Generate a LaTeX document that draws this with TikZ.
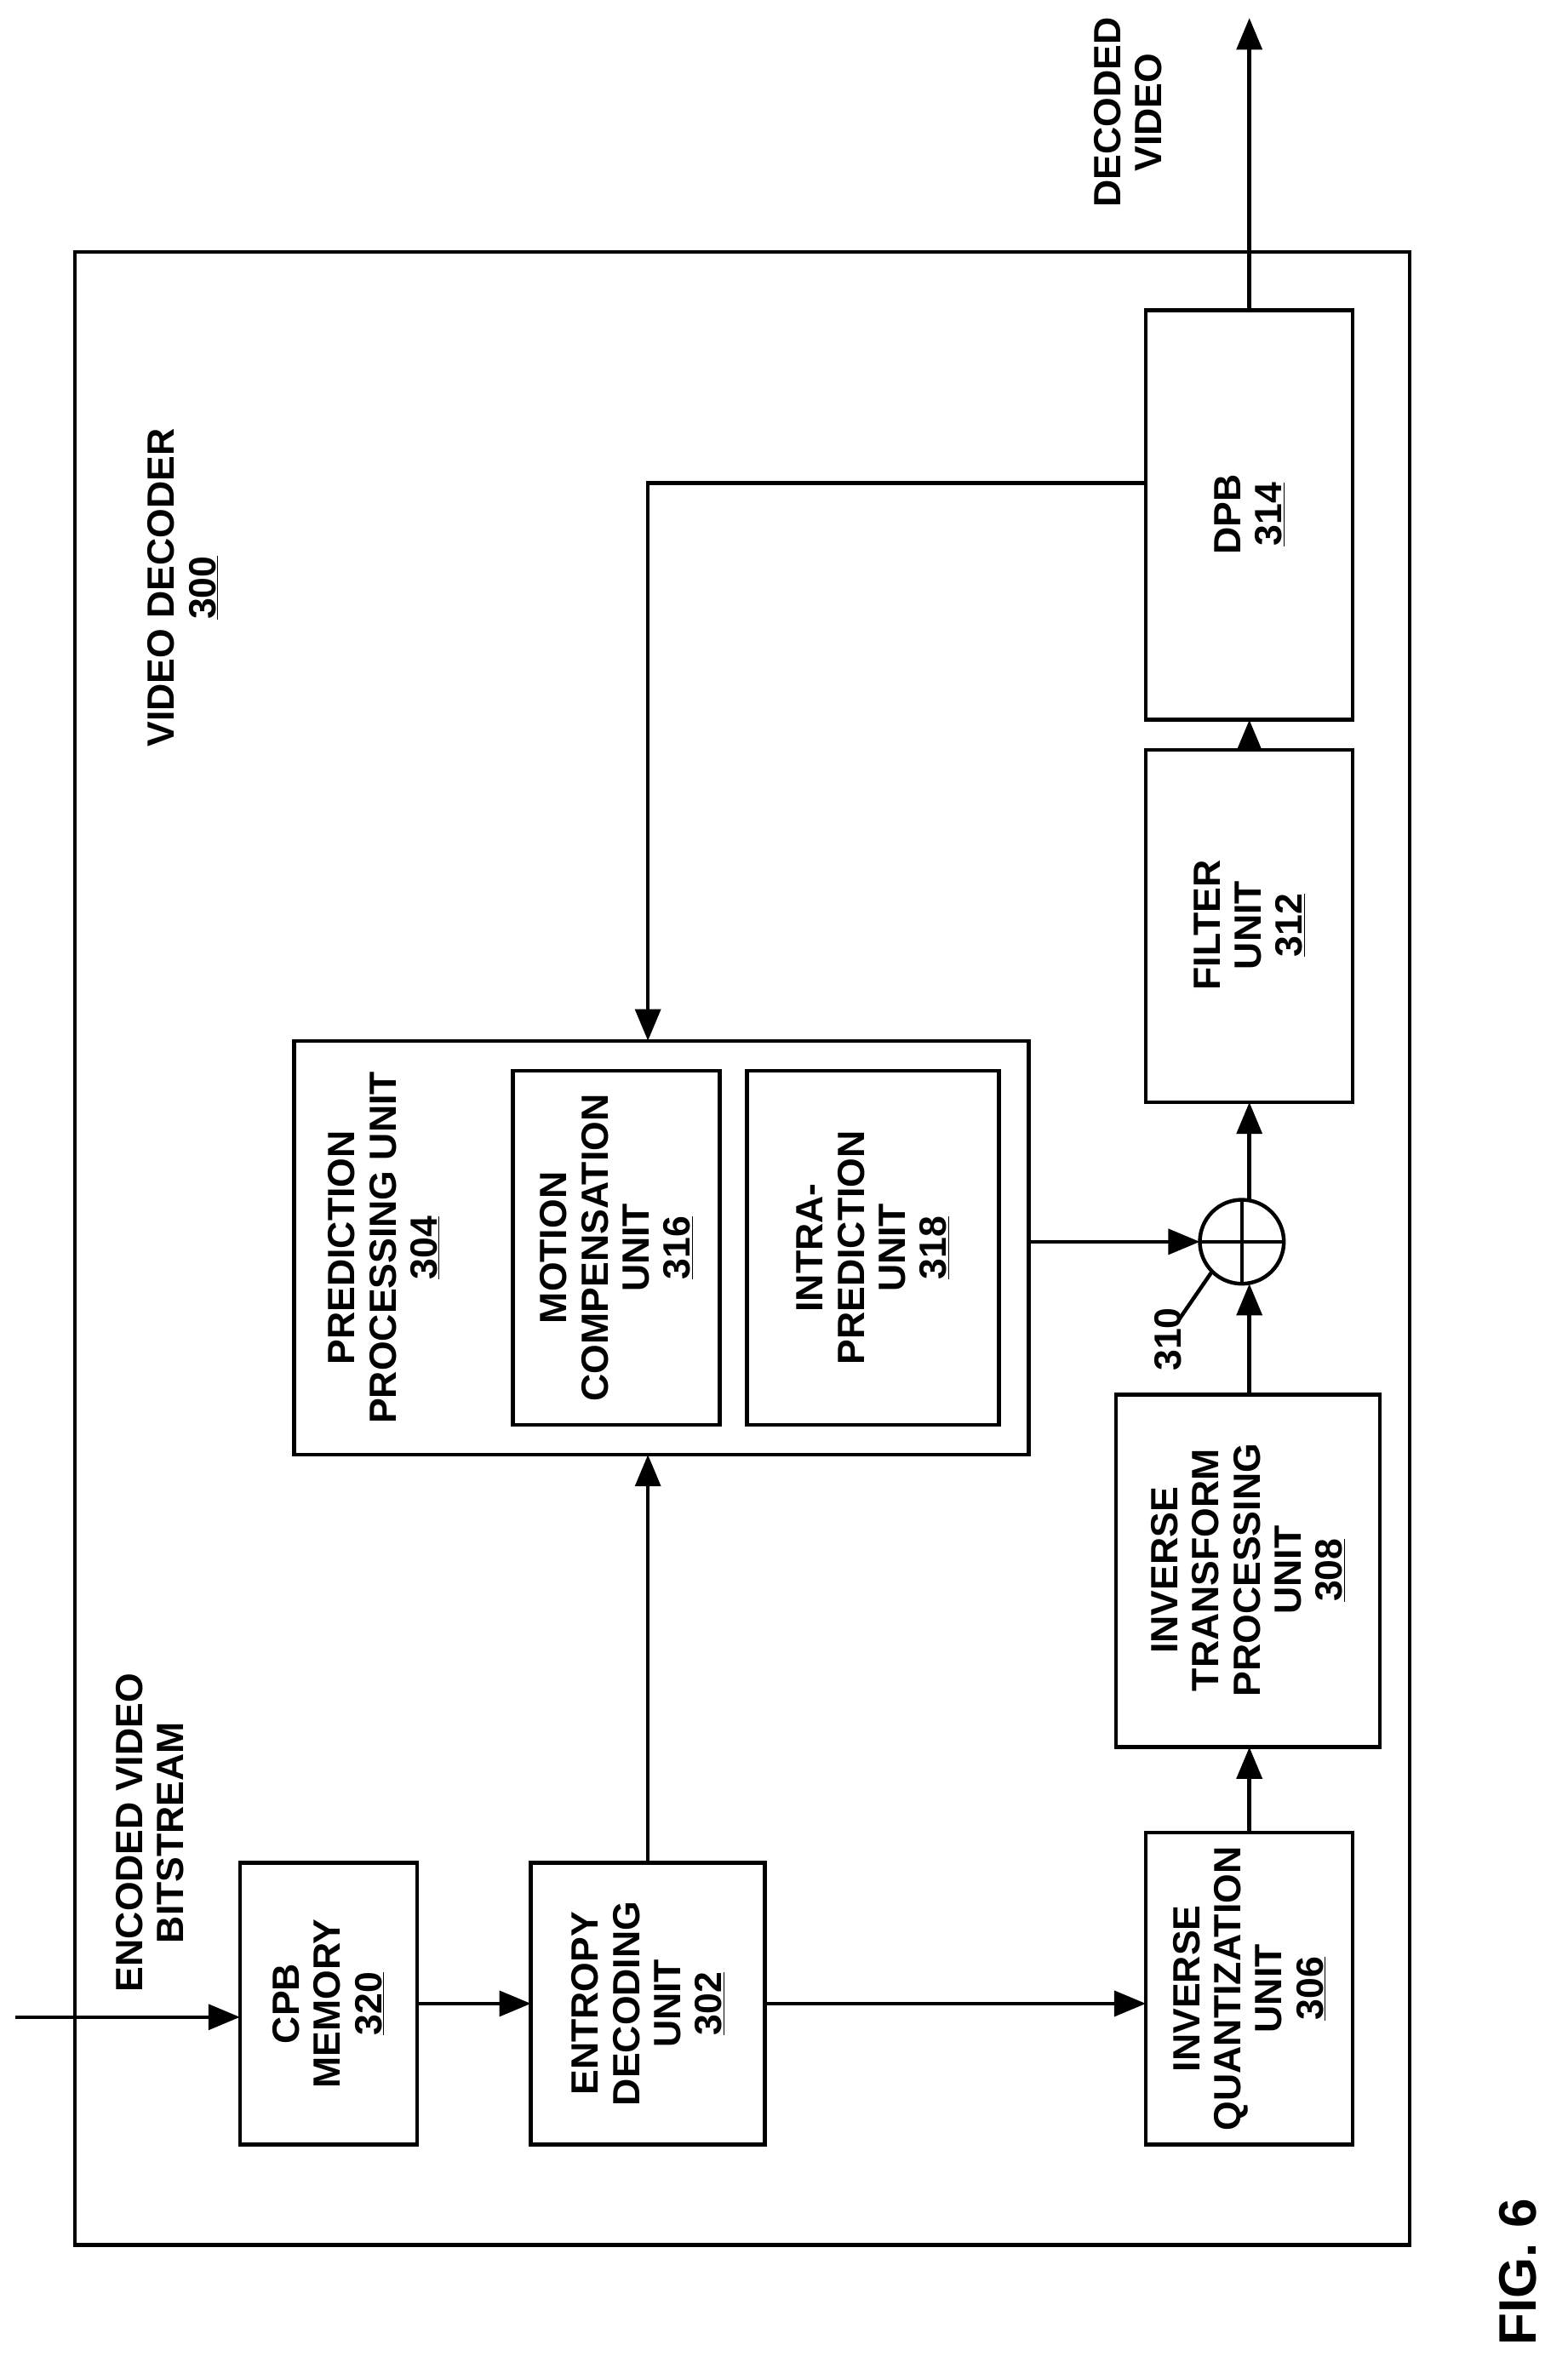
\documentclass[tikz,border=0pt]{standalone}
\usepackage{fontspec}
\setmainfont{Liberation Sans}
\usetikzlibrary{arrows.meta}
\begin{document}
\begin{tikzpicture}[x=0.05cm,y=-0.05cm,
  box/.style={draw,line width=3.6pt},
  lbl/.style={rotate=90,align=center,font=\fontsize{36}{39}\selectfont\bfseries},
  arr/.style={line width=3.6pt,-{Triangle[length=30pt,width=24pt]}},
  ln/.style={line width=3.6pt}]
\useasboundingbox (0,0) rectangle (1045,1575);
\draw[box] (50,168) rectangle (940,1497);
\node[lbl] (vd) at (122,392) {VIDEO DECODER\\\underline{300}};
% boxes
\draw[box] (160,1242) rectangle (278,1430); \node[lbl] (cpb) at (219,1336) {CPB\\MEMORY\\\underline{320}};
\draw[box] (354,1242) rectangle (510,1430); \node[lbl] (ent) at (432,1336) {ENTROPY\\DECODING\\UNIT\\\underline{302}};
\draw[box] (764,1222) rectangle (902,1430); \node[lbl] (iq) at (833,1326) {INVERSE\\QUANTIZATION\\UNIT\\\underline{306}};
\draw[box] (744,930) rectangle (920,1165); \node[lbl] (it) at (832,1047) {INVERSE\\TRANSFORM\\PROCESSING\\UNIT\\\underline{308}};
\draw[box] (196,694) rectangle (686,970); \node[lbl] (pp) at (256,832) {PREDICTION\\PROCESSING UNIT\\\underline{304}};
\draw[box] (342,714) rectangle (480,950); \node[lbl] (mc) at (411,832) {MOTION\\COMPENSATION\\UNIT\\\underline{316}};
\draw[box] (498,714) rectangle (666,950); \node[lbl] (ip) at (582,832) {INTRA-\\PREDICTION\\UNIT\\\underline{318}};
\draw[box] (764,500) rectangle (902,735); \node[lbl] (fi) at (833,617) {FILTER\\UNIT\\\underline{312}};
\draw[box] (764,207) rectangle (902,480); \node[lbl] (dpb) at (833,343) {DPB\\\underline{314}};
% sum
\coordinate (s) at (828,828);
\draw[ln] (s) circle (28);
\draw[ln] (800,828) -- (856,828) (828,800) -- (828,856);
\node[lbl,anchor=south] (n310) at (790,893) {310};
\draw[ln] (786,880) -- (808,848);
% arrows
\coordinate (in) at (10,1345);
\draw[arr] (in) -- (160,1345);
\node[lbl] (ebs) at (100,1222) {ENCODED VIDEO\\BITSTREAM};
\draw[arr] (278,1336) -- (354,1336);
\draw[arr] (510,1336) -- (764,1336);
\draw[arr] (432,1242) -- (432,970);
\draw[arr] (833,1222) -- (833,1165);
\draw[arr] (833,930) -- (833,856);
\draw[arr] (686,828) -- (800,828);
\draw[arr] (833,800) -- (833,735);
\draw[arr] (833,500) -- (833,480);
\coordinate (out) at (833,12);
\draw[arr] (833,207) -- (out);
\node[lbl] (dv) at (752,75) {DECODED\\VIDEO};
\draw[arr] (764,322) -- (432,322) -- (432,694);
\node[rotate=90,font=\fontsize{50}{50}\selectfont\bfseries] (fig) at (1012,1515) {FIG. 6};
\end{tikzpicture}
\end{document}
